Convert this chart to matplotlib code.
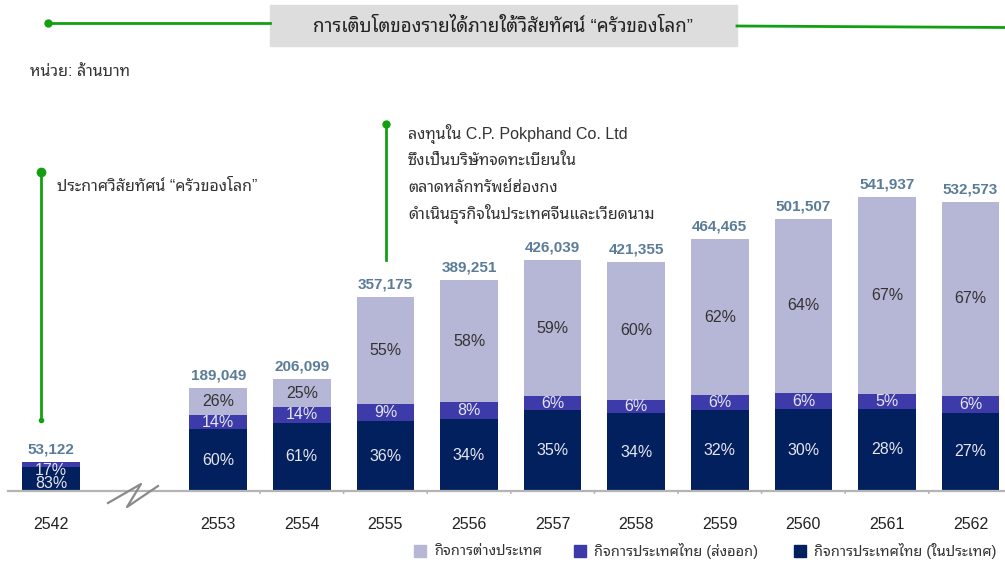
import matplotlib
matplotlib.use("Agg")
import matplotlib.pyplot as plt
from matplotlib.lines import Line2D
from matplotlib.patches import Rectangle

# data (revenue, million baht) and share of each business
years = ["2542", "2553", "2554", "2555", "2556", "2557", "2558", "2559", "2560", "2561", "2562"]
slots = [0, 2, 3, 4, 5, 6, 7, 8, 9, 10, 11]
totals = [53122, 189049, 206099, 357175, 389251, 426039, 421355, 464465, 501507, 541937, 532573]
domestic = [83, 60, 61, 36, 34, 35, 34, 32, 30, 28, 27]
export = [17, 14, 14, 9, 8, 6, 6, 6, 6, 5, 6]
foreign = [0, 26, 25, 55, 58, 59, 60, 62, 64, 67, 67]

legend_labels = ["กิจการต่างประเทศ", "กิจการประเทศไทย (ส่งออก)", "กิจการประเทศไทย (ในประเทศ)"]
title = "การเติบโตของรายได้ภายใต้วิสัยทัศน์ “ครัวของโลก”"
unit = "หน่วย: ล้านบาท"
note1 = "ประกาศวิสัยทัศน์ “ครัวของโลก”"
note2 = ["ลงทุนใน C.P. Pokphand Co. Ltd", "ซึ่งเป็นบริษัทจดทะเบียนใน",
         "ตลาดหลักทรัพย์ฮ่องกง", "ดำเนินธุรกิจในประเทศจีนและเวียดนาม"]

C_FOR = "#b6b6d6"
C_EXP = "#3d3aaa"
C_DOM = "#021f5e"
GREEN = "#12a012"
FONT = ["Liberation Sans", "Noto Sans Thai Looped"]

W, H = 1005, 562
plt.rcParams["font.family"] = FONT


def px(x, y):
    return x / W, 1 - y / H


fig = plt.figure(figsize=(W / 100, H / 100), dpi=100)
ax = fig.add_axes([0, (H - 491) / H, 1, (491 - 100) / H])
ax.set_xlim(-51 / 83.6, (W - 51) / 83.6)
ax.set_ylim(0, 391 * 1843)
ax.axis("off")

dom_v = [t * d / 100 for t, d in zip(totals, domestic)]
exp_v = [t * e / 100 for t, e in zip(totals, export)]
for_v = [t - a - b for t, a, b in zip(totals, dom_v, exp_v)]
bw = 0.69
ax.bar(slots, dom_v, bw, color=C_DOM)
ax.bar(slots, exp_v, bw, bottom=dom_v, color=C_EXP)
ax.bar(slots, for_v, bw, bottom=[a + b for a, b in zip(dom_v, exp_v)], color=C_FOR)

for i, x in enumerate(slots):
    ax.annotate(f"{totals[i]:,}", (x, totals[i]), xytext=(0, 4), textcoords="offset points",
                ha="center", va="bottom", fontsize=11, fontweight="bold", color="#5a7c98")
    off_d, off_e = (0, 0) if i else (-3, -4)
    ax.annotate(f"{domestic[i]}%", (x, dom_v[i] / 2), xytext=(0, off_d), textcoords="offset points",
                ha="center", va="center", fontsize=11.5, color="#e6e6ee")
    ax.annotate(f"{export[i]}%", (x, dom_v[i] + exp_v[i] / 2), xytext=(0, off_e), textcoords="offset points",
                ha="center", va="center", fontsize=11.5, color="#e6e6ee")
    if foreign[i]:
        ax.text(x, dom_v[i] + exp_v[i] + for_v[i] / 2, f"{foreign[i]}%",
                ha="center", va="center", fontsize=11.5, color="#333333")
    ax.annotate(years[i], (x, 0), xytext=(0, -24), textcoords="offset points",
                ha="center", va="center", fontsize=11.5, color="#222222")

# baseline, ticks and axis break
fig.add_artist(Line2D([8 / W, 1], [px(0, 491)[1]] * 2, color="#b4b4b4", lw=1.6))
for b in range(2, 11):
    ax.annotate("", (b + 0.5, 0), xytext=(b + 0.5, -5 * 1843), annotation_clip=False,
                arrowprops=dict(arrowstyle="-", color="#b4b4b4", lw=1.2))
bx, by = zip(*[px(108, 503), px(141, 484), px(127, 507), px(158, 486)])
fig.add_artist(Line2D(bx, by, color="#8a8a8a", lw=1.6))

# title banner
fig.add_artist(Rectangle(px(270, 46), 467 / W, 41 / H, color="#dddddd"))
fig.add_artist(Line2D(*zip(px(48, 23), px(270, 23)), color=GREEN, lw=2))
fig.add_artist(Line2D(*zip(px(737, 26), px(1005, 27.5)), color=GREEN, lw=2))
fig.add_artist(Line2D(*zip(px(48, 23)), marker="o", ms=5, color=GREEN))
fig.text(*px(503, 27), title, ha="center", va="center", fontsize=13.5, fontweight="medium", color="#222222")
fig.text(*px(30, 71), unit, ha="left", va="center", fontsize=11.5, color="#333333")

# annotations
fig.add_artist(Line2D(*zip(px(41, 172), px(41, 420)), color=GREEN, lw=2))
fig.add_artist(Line2D(*zip(px(41, 172)), marker="o", ms=6, color=GREEN))
fig.add_artist(Line2D(*zip(px(41, 420)), marker="o", ms=3, color=GREEN))
fig.text(*px(57, 186), note1, ha="left", va="center", fontsize=11.5, color="#333333")
fig.add_artist(Line2D(*zip(px(386, 124), px(386, 260)), color=GREEN, lw=2))
fig.add_artist(Line2D(*zip(px(386, 124)), marker="o", ms=5, color=GREEN))
for k, line in enumerate(note2):
    fig.text(*px(408, 134 + 26.5 * k), line, ha="left", va="center", fontsize=11.5, color="#333333")

# legend
for (lx, tx), lab, c in zip([(414, 434), (574, 594), (794, 814)], legend_labels, [C_FOR, C_EXP, C_DOM]):
    fig.add_artist(Rectangle(px(lx, 557), 12 / W, 12 / H, color=c))
    fig.text(*px(tx, 551), lab, ha="left", va="center", fontsize=10.5, color="#333333")

fig.savefig("out.png", dpi=100)
